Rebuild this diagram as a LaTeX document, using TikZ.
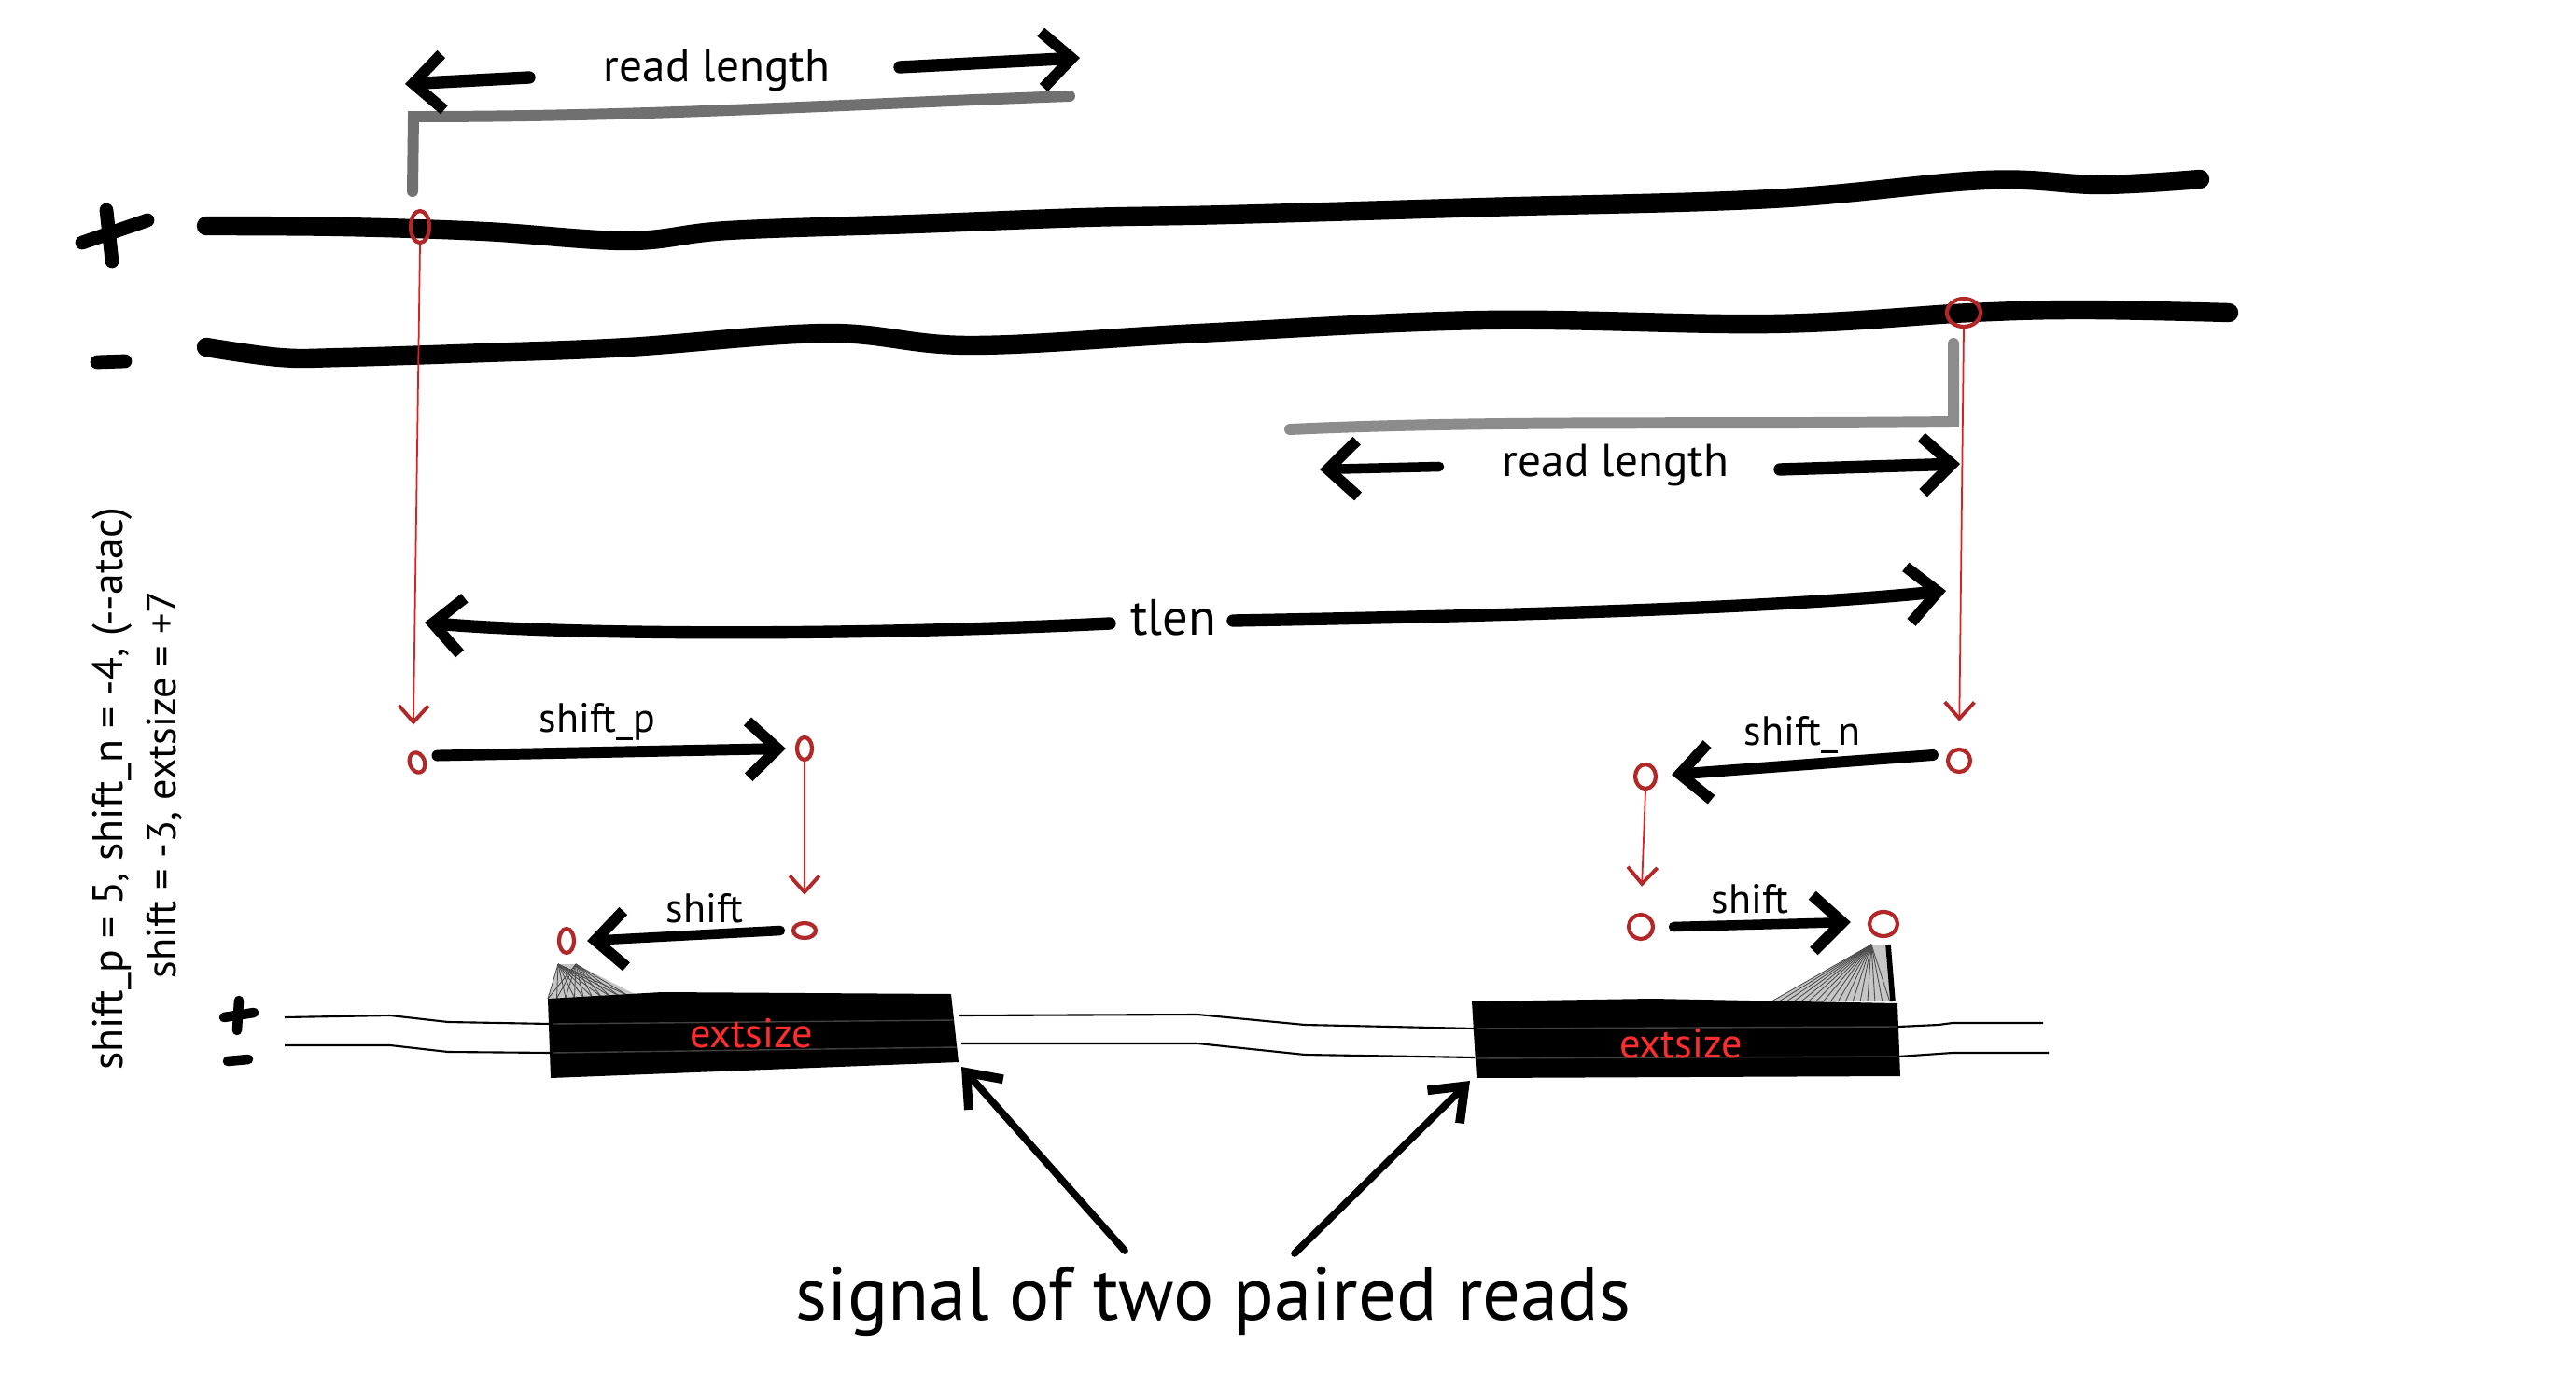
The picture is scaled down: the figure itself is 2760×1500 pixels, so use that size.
\documentclass[tikz,border=0pt]{standalone}
\usepackage{fontspec}
\setmainfont{PT Sans}
\usetikzlibrary{arrows.meta,shapes.geometric,calc}
\definecolor{mkred}{RGB}{178,40,40}
\definecolor{lnred}{RGB}{225,30,30}
\definecolor{gryA}{RGB}{112,112,112}
\definecolor{gryB}{RGB}{140,140,140}
\definecolor{exred}{RGB}{255,45,45}
\begin{document}
\begin{tikzpicture}[x=0.01cm,y=-0.01cm,
  rmark/.style={ellipse, draw=mkred, line width=1.2pt, inner sep=0pt},
  redconn/.style={draw=lnred, line width=0.5pt, shorten >=8pt, -{Straight Barb[length=5pt,width=9pt,line width=1.1pt,color=mkred]}},
  bigarr/.style={line width=3.8pt, line cap=round, -{Straight Barb[length=9pt,width=17pt,line width=3.4pt]}},
  sigarr/.style={line width=2.2pt, line cap=round, -{Straight Barb[length=9pt,width=14pt,line width=2.8pt]}},
  strand/.style={line width=5.8pt, line cap=round},
  thinstrand/.style={line width=0.6pt},
  bracket/.style={line width=3.4pt, line cap=round},
  lbl/.style={inner sep=0pt, font=\fontsize{12.5}{14}\selectfont},
  rl/.style={inner sep=0pt, font=\fontsize{14}{16}\selectfont},
  exlbl/.style={inner sep=0pt, text=exred, font=\fontsize{12.6}{14}\selectfont},
]
\fill[white] (0,0) rectangle (2760,1500);
\useasboundingbox (0,0) rectangle (2760,1500);

% strand signs
\draw[line width=4.2pt, line cap=round] (88,260) -- (158,236);
\draw[line width=4.2pt, line cap=round] (114,225) -- (120,280);
\draw[line width=4.2pt, line cap=round] (104,388) -- (134,387);

% thick strands
\draw[strand] plot[smooth, tension=0.6] coordinates {(221,242) (366,243) (519,248) (673,258) (780,247) (979,240) (1163,233) (1316,230) (1591,222) (1898,213) (2127,193) (2250,198) (2357,192)};
\draw[strand] plot[smooth, tension=0.6] coordinates {(221,372) (300,383) (366,383) (520,378) (673,372) (887,357) (1040,370) (1285,357) (1591,343) (1898,347) (2112,335) (2234,332) (2388,335)};

% grey brackets
\draw[bracket, gryA] (442,205) -- (443,125) .. controls (700,125) and (900,112) .. (1146,103);
\draw[bracket, gryB] (2093,368) -- (2093,452) .. controls (1800,455) and (1600,450) .. (1382,460);

% read length labels and arrows
\node[rl] (rlA) at (768,75) {read length};
\coordinate (rlA1) at (567,83); \coordinate (rlA2) at (434,90);
\coordinate (rlA3) at (964,72); \coordinate (rlA4) at (1157,62);
\draw[bigarr] (rlA1) -- (rlA2);
\draw[bigarr] (rlA3) -- (rlA4);

\node[rl] (rlB) at (1731,498) {read length};
\coordinate (rlB1) at (1542,500); \coordinate (rlB2) at (1414,503);
\coordinate (rlB3) at (1907,503); \coordinate (rlB4) at (2100,497);
\draw[bigarr, line width=3pt] (rlB1) -- (rlB2);
\draw[bigarr] (rlB3) -- (rlB4);

% red marks
\node[rmark, minimum width=0.20cm, minimum height=0.34cm] (eP1) at (450,243) {};
\node[rmark, minimum width=0.36cm, minimum height=0.30cm] (eN1) at (2104,335) {};
\node[rmark, minimum width=0.16cm, minimum height=0.22cm, rotate=20] (eP2) at (447,817) {};
\node[rmark, minimum width=0.16cm, minimum height=0.24cm] (eP3) at (862,802) {};
\node[rmark, minimum width=0.24cm, minimum height=0.16cm] (eP4) at (862,997) {};
\node[rmark, minimum width=0.16cm, minimum height=0.26cm] (eP5) at (607,1008) {};
\node[rmark, minimum width=0.24cm, minimum height=0.24cm] (eN2) at (2099,815) {};
\node[rmark, minimum width=0.22cm, minimum height=0.26cm] (eN3) at (1763,832) {};
\node[rmark, minimum width=0.26cm, minimum height=0.26cm] (eN4) at (1758,993) {};
\node[rmark, minimum width=0.30cm, minimum height=0.26cm] (eN5) at (2018,990) {};

% red connectors
\draw[redconn] (eP1.south) -- (eP2.north);
\draw[redconn] (eN1.south) -- (eN2.north);
\draw[redconn] (eP3.south) -- (eP4.north);
\draw[redconn] (eN3.south) -- (eN4.north);

% tlen
\node[inner sep=0pt, font=\fontsize{15.5}{18}\selectfont] (tlen) at (1257,662) {tlen};
\coordinate (tl1) at (1189,668); \coordinate (tl2) at (455,667);
\coordinate (tl3) at (1321,665); \coordinate (tl4) at (2085,633);
\draw[bigarr] (tl1) .. controls (900,682) and (600,680) .. (tl2);
\draw[bigarr] (tl3) .. controls (1600,660) and (1900,652) .. (tl4);

% shift arrows
\node[lbl] (lsp) at (640,773) {shift\_p};
\draw[bigarr, line width=3.4pt] (eP2.east) ++(12,-4) coordinate (sp1) -- ($(eP3.west)+(-10,0)$) coordinate (sp2);
\node[lbl] (lsn) at (1931,787) {shift\_n};
\draw[bigarr, line width=3.4pt] ($(eN2.west)+(-14,-6)$) coordinate (sn1) -- ($(eN3.east)+(15,-2)$) coordinate (sn2);
\node[lbl] (ls1) at (755,973) {shift};
\draw[bigarr, line width=3pt] ($(eP4.west)+(-12,0)$) coordinate (s11) -- ($(eP5.east)+(12,0)$) coordinate (s12);
\node[lbl] (ls2) at (1875,963) {shift};
\draw[bigarr, line width=3pt] ($(eN4.east)+(20,0)$) coordinate (s21) -- ($(eN5.west)+(-18,-2)$) coordinate (s22);

% thin strands
\draw[thinstrand] (305,1090) -- (418,1088) -- (480,1095) -- (590,1097);
\draw[thinstrand] (305,1120) -- (418,1120) -- (480,1127) -- (590,1128);
\draw[thinstrand] (1027,1088) -- (1283,1087) -- (1398,1098) -- (1580,1102);
\draw[thinstrand] (1030,1118) -- (1283,1118) -- (1398,1130) -- (1580,1133);
\draw[thinstrand] (2034,1100) -- (2077,1098) -- (2092,1096) -- (2189,1096);
\draw[thinstrand] (2034,1132) -- (2092,1128) -- (2195,1128);
\draw[line width=3pt, line cap=round] (240,1090) -- (272,1085);
\draw[line width=3pt, line cap=round] (256,1072) -- (254,1104);
\draw[line width=3pt, line cap=round] (244,1137) -- (266,1135);

% hatch triangles
\fill[gray!45] (598,1033) -- (617,1033) -- (682,1066) -- (587,1070) -- cycle;
\foreach \t in {0,0.1,...,1.0} {\draw[black!70, line width=0.25pt] (598,1033) -- ($(587,1070)!\t!(682,1066)$);
  \draw[black!70, line width=0.25pt] (617,1033) -- ($(587,1070)!\t!(682,1066)$);}
\fill[gray!45] (1898,1073) -- (2005,1012) -- (2023,1012) -- (2030,1073) -- cycle;
\foreach \t in {0,0.06,...,1.0} {\draw[black!70, line width=0.25pt] (2005,1012) -- ($(1898,1073)!\t!(2030,1073)$);}
\draw[line width=1.6pt] (2023,1012) -- (2028,1073);

% blocks
\fill[black] (587,1070) -- (709,1063) -- (1019,1065) -- (1027,1138) -- (590,1155) -- cycle;
\fill[black] (1577,1073) -- (1770,1070) -- (2033,1075) -- (2036,1153) -- (1582,1155) -- cycle;
\draw[black!75!white, line width=0.4pt] (592,1097) -- (1022,1093);
\draw[black!75!white, line width=0.4pt] (592,1128) -- (1025,1122);
\draw[black!75!white, line width=0.4pt] (1582,1102) -- (2032,1100);
\draw[black!75!white, line width=0.4pt] (1582,1134) -- (2032,1132);
\node[exlbl] (ex1) at (805,1107) {extsize};
\node[exlbl] (ex2) at (1801,1118) {extsize};

% signal
\node[inner sep=0pt, font=\fontsize{23}{26}\selectfont] (sig) at (1300,1394) {signal of two paired reads};
\coordinate (sg1) at (1205,1340); \coordinate (sg2) at (1030,1143);
\coordinate (sg3) at (1387,1343); \coordinate (sg4) at (1575,1158);
\draw[sigarr] (sg1) -- (sg2);
\draw[sigarr] (sg3) -- (sg4);

% rotated parameters
\node[inner sep=0pt, rotate=90, font=\fontsize{13}{15}\selectfont] (par1) at (120,845) {shift\_p = 5, shift\_n = -4, (-{}-atac)};
\node[inner sep=0pt, rotate=90, font=\fontsize{12.6}{15}\selectfont] (par2) at (176,841) {shift = -3, extsize = +7};
\end{tikzpicture}
\end{document}
